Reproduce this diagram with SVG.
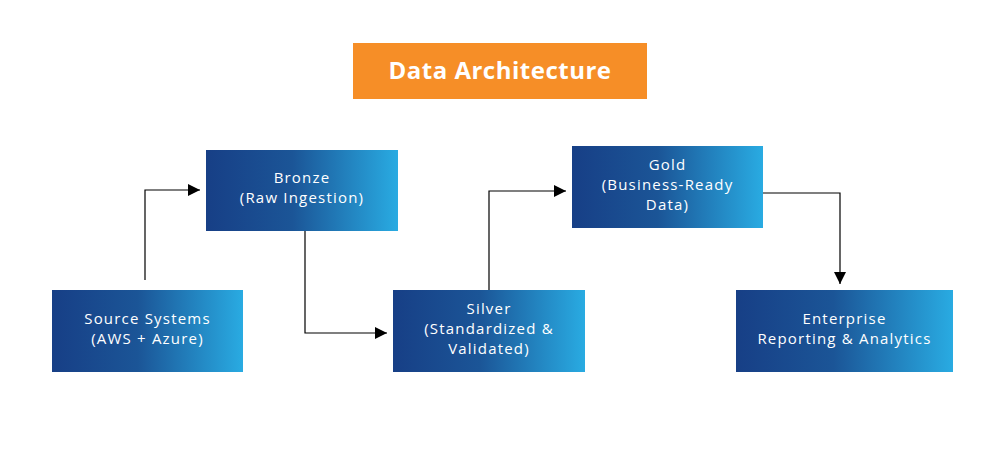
<svg xmlns="http://www.w3.org/2000/svg" width="1000" height="453" viewBox="0 0 1000 453">
<defs>
<linearGradient id="g" x1="0" y1="0" x2="1" y2="0">
<stop offset="0" stop-color="#173f86"/>
<stop offset="0.45" stop-color="#1b5597"/>
<stop offset="1" stop-color="#29abe2"/>
</linearGradient>
<marker id="ah" viewBox="0 0 12 12" refX="12" refY="6" markerWidth="12" markerHeight="12" markerUnits="userSpaceOnUse" orient="auto">
<path d="M0,0 L12,6 L0,12 Z" fill="#000"/>
</marker>
<style>
.box{fill:url(#g);}
.t{font-family:"Open Sans","Liberation Sans",sans-serif;font-size:15px;letter-spacing:1.2px;fill:#fff;text-anchor:middle;}
.c{fill:none;stroke:#000;stroke-width:1.2;marker-end:url(#ah);}
</style>
</defs>
<rect width="1000" height="453" fill="#fff"/>
<g id="title">
<rect x="353" y="43" width="294" height="56" fill="#f68e27"/>
<text x="500" y="79" font-family="'Open Sans','Liberation Sans',sans-serif" font-size="24" font-weight="bold" letter-spacing="0.5" fill="#fff" text-anchor="middle">Data Architecture</text>
</g>
<g id="connectors">
<path class="c" d="M145,280 V190 H200"/>
<path class="c" d="M305,231 V333 H387"/>
<path class="c" d="M489,290 V191 H566"/>
<path class="c" d="M763,193 H840 V284"/>
</g>
<g id="source">
<rect class="box" x="52" y="290" width="191" height="82"/>
<text class="t" x="147.5" y="323.5">Source Systems</text>
<text class="t" x="147.5" y="343.5">(AWS + Azure)</text>
</g>
<g id="bronze">
<rect class="box" x="206" y="150" width="192" height="81"/>
<text class="t" x="302" y="182.5">Bronze</text>
<text class="t" x="302" y="202.5">(Raw Ingestion)</text>
</g>
<g id="silver">
<rect class="box" x="393" y="290" width="192" height="82"/>
<text class="t" x="489" y="313.5">Silver</text>
<text class="t" x="489" y="333.5">(Standardized &amp;</text>
<text class="t" x="489" y="353.5">Validated)</text>
</g>
<g id="gold">
<rect class="box" x="572" y="146" width="191" height="82"/>
<text class="t" x="667.5" y="169.5">Gold</text>
<text class="t" x="667.5" y="189.5">(Business-Ready</text>
<text class="t" x="667.5" y="209.5">Data)</text>
</g>
<g id="enterprise">
<rect class="box" x="736" y="290" width="217" height="82"/>
<text class="t" x="844.5" y="323.5">Enterprise</text>
<text class="t" x="844.5" y="343.5">Reporting &amp; Analytics</text>
</g>
</svg>
